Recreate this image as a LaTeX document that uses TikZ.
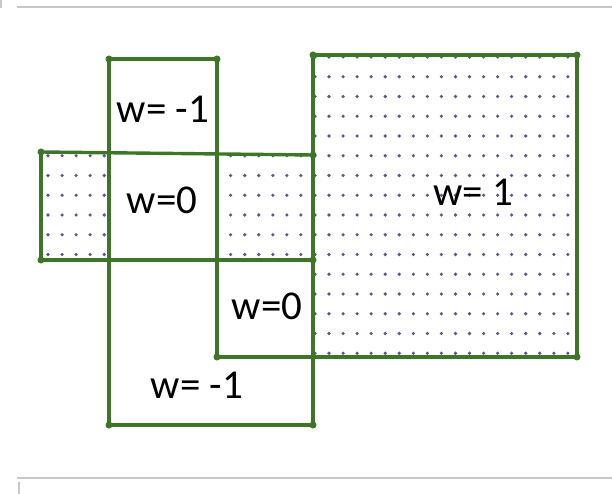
\documentclass[tikz,border=0pt]{standalone}
\usepackage{fontspec}
\setmainfont{Carlito}
\usetikzlibrary{positioning}
\definecolor{edgegreen}{RGB}{62,118,40}
\definecolor{dotblue}{RGB}{85,90,140}
\definecolor{framegray}{RGB}{200,200,200}

\begin{document}
\begin{tikzpicture}[
    x=1pt, y=-1pt,
    edge/.style={draw=edgegreen, line width=3.4pt},
    vertex/.style={circle, fill=edgegreen, inner sep=0pt, minimum size=7pt},
    wlabel/.style={font=\fontsize{41}{46}\selectfont, anchor=base},
    frame/.style={draw=framegray, line width=1.6pt}
]
    \useasboundingbox (0,0) rectangle (612,494);

    % ---- frame ----
    \coordinate (ft1) at (17,7);
    \coordinate (ft2) at (612,7);
    \coordinate (fb1) at (17,478);
    \coordinate (fb2) at (612,478);
    \coordinate (fm1) at (1,0);
    \coordinate (fm2) at (1,8);
    \coordinate (fn1) at (19,482);
    \coordinate (fn2) at (19,494);
    \draw[frame] (ft1) -- (ft2);
    \draw[frame] (fb1) -- (fb2);
    \draw[frame] (fm1) -- (fm2);
    \draw[frame] (fn1) -- (fn2);

    % ---- dotted region (w=1) ----
    \begin{scope}
        \clip (39,151) rectangle (111,262)
              (215,151) rectangle (315,262)
              (311,53) rectangle (579,359);
        \foreach \i in {0,...,37}
            \foreach \j in {0,...,15}
                \fill[dotblue] (48+14.05*\i, 57+19.75*\j) circle (1.8);
    \end{scope}

    % ---- vertices ----
    \coordinate (a1) at (109,59);
    \coordinate (a2) at (217,59);
    \coordinate (b1) at (41,152);
    \coordinate (b4) at (313,155);
    \coordinate (c1) at (313,55);
    \coordinate (c2) at (577,55);
    \coordinate (d1) at (41,260);
    \coordinate (d4) at (313,260);
    \coordinate (e1) at (217,357);
    \coordinate (e2) at (313,357);
    \coordinate (e3) at (577,357);
    \coordinate (f1) at (109,425);
    \coordinate (f2) at (313,425);

    % ---- edges ----
    \draw[edge] (a1) -- (a2);
    \draw[edge] (a1) -- (f1);
    \draw[edge] (a2) -- (e1);
    \draw[edge] (b1) -- (b4);
    \draw[edge] (b1) -- (d1);
    \draw[edge] (d1) -- (d4);
    \draw[edge] (c1) -- (c2);
    \draw[edge] (c2) -- (e3);
    \draw[edge] (e1) -- (e3);
    \draw[edge] (c1) -- (f2);
    \draw[edge] (f1) -- (f2);
    \foreach \v in {a1,a2,b1,b4,c1,c2,d1,d4,e1,e3,f1,f2}
        \node[vertex] at (\v) {};

    % ---- labels ----
    \node[wlabel] (wtop) at (163,123) {w= -1};
    \node[wlabel] (wmid) at (162,213) {w=0};
    \node[wlabel] (wright) at (473,206) {w= 1};
    \node[wlabel] (wlow) at (267,319) {w=0};
    \node[wlabel] (wbot) at (197,398) {w= -1};
\end{tikzpicture}
\end{document}
